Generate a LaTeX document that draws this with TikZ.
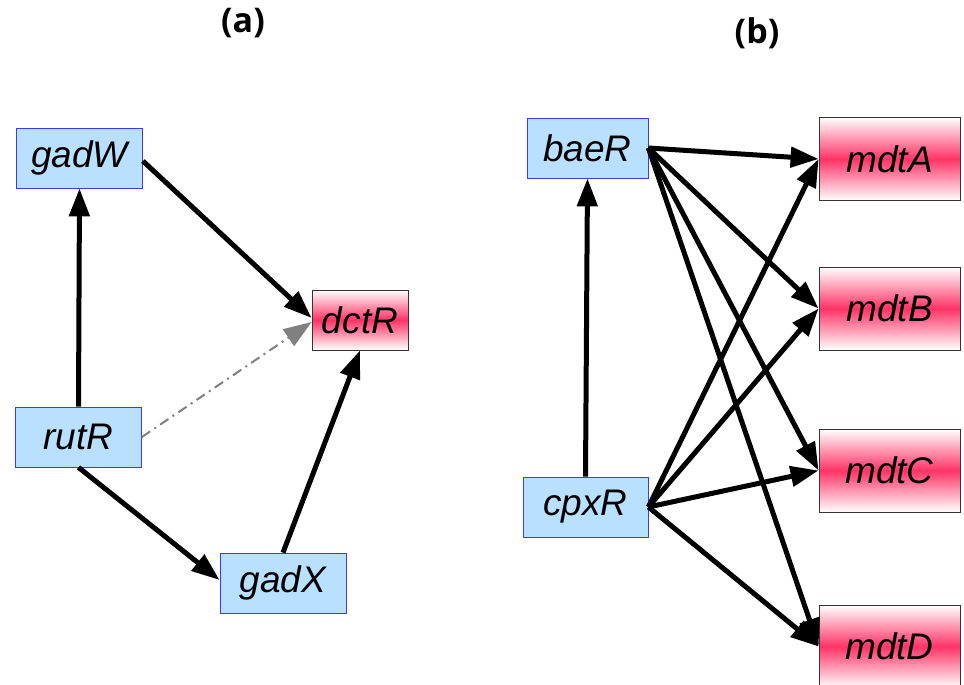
\documentclass[tikz,border=0pt]{standalone}
\usepackage{fontspec}
\setmainfont{Liberation Sans}
\newfontfamily\headfont{Open Sans}
\usetikzlibrary{arrows.meta}

\definecolor{regblue}{HTML}{B9E1FF}
\definecolor{regedge}{HTML}{3A3AFF}
\definecolor{tgtpink}{HTML}{FF3366}

\begin{document}
\begin{tikzpicture}[x=0.5pt, y=-0.5pt,
  reg/.style={draw=regedge, fill=regblue, minimum width=63pt, minimum height=30pt, inner sep=0pt, font=\fontsize{18.5}{20}\selectfont\itshape},
  tgt/.style={draw=black!80, top color=white, bottom color=white, middle color=tgtpink, minimum width=70.5pt, minimum height=41.5pt, inner sep=0pt, font=\fontsize{18.5}{20}\selectfont\itshape},
  head/.style={font=\headfont\bfseries\fontsize{17}{19}\selectfont},
  link/.style={-{Triangle[length=14pt,width=10pt]}, line width=2.5pt},
  weak/.style={-{Triangle[length=14pt,width=10pt]}, gray, line width=1pt, dash pattern=on 5pt off 2.5pt on 1pt off 2.5pt}]
\useasboundingbox (0,0) rectangle (964,685);

% panel (a)
\node[head] (ta) at (243,23) {(a)};
\node[reg] (gadW) at (79.5,158) {gadW};
\node[reg] (rutR) at (78.5,437) {rutR};
\node[reg] (gadX) at (283,583) {gadX};
\node[tgt, minimum width=48pt, minimum height=30pt] (dctR) at (360,320) {dctR};

\draw[link] (rutR.north) -- (gadW.south);
\draw[link] ([yshift=-1.5pt]gadW.east) -- ([yshift=1pt]dctR.west);
\draw[weak] (rutR.east) -- ([yshift=-1pt]dctR.west);
\draw[link] (rutR.south) -- ([yshift=1.5pt]gadX.west);
\draw[link] (gadX.north) -- (dctR.south);

% panel (b)
\node[head] (tb) at (757,33) {(b)};
\node[reg, minimum width=60.5pt] (baeR) at (587.5,148) {baeR};
\node[reg, minimum width=62.5pt] (cpxR) at (585.5,507) {cpxR};
\node[tgt] (mdtA) at (889.5,159) {mdtA};
\node[tgt] (mdtB) at (889.5,308.5) {mdtB};
\node[tgt] (mdtC) at (889.5,470.5) {mdtC};
\node[tgt] (mdtD) at (889.5,646.5) {mdtD};

\draw[link] (cpxR.north) -- (baeR.south);
\foreach \t in {mdtA,mdtB,mdtC,mdtD}{
  \draw[link] (baeR.east) -- (\t.west);
  \draw[link] (cpxR.east) -- (\t.west);
}
\end{tikzpicture}
\end{document}
